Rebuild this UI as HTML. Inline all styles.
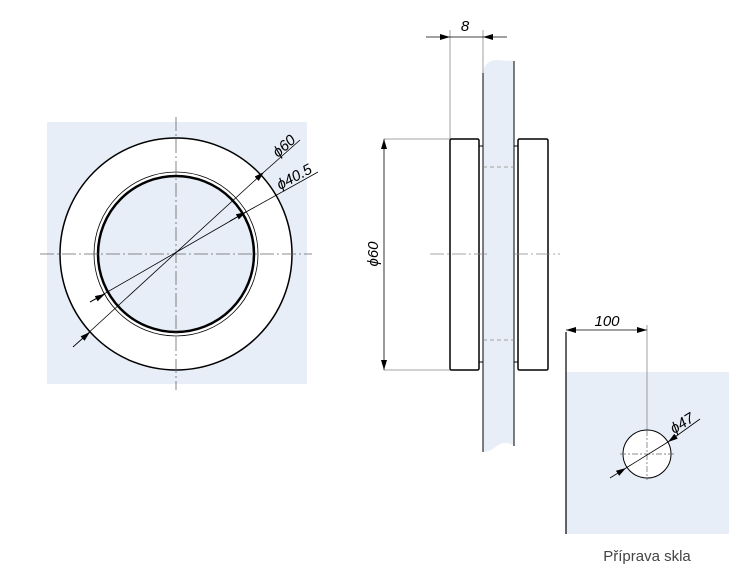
<!DOCTYPE html>
<html><head><style>body{margin:0;background:#fff}svg{display:block}</style></head><body>
<svg width="756" height="574" viewBox="0 0 756 574" xmlns="http://www.w3.org/2000/svg" font-family="Liberation Sans, sans-serif">
<defs>
<marker id="a" viewBox="0 0 10 6" refX="10" refY="3" markerWidth="10" markerHeight="6" orient="auto" markerUnits="userSpaceOnUse"><path d="M0,0L10,3L0,6z" fill="#000"/></marker>
</defs>
<!-- left view -->
<rect x="47" y="122" width="260" height="262" fill="#e8eef7"/>
<circle cx="176" cy="254" r="116" fill="#fff" stroke="#000" stroke-width="1.5"/>
<circle cx="176" cy="254" r="82" fill="none" stroke="#000" stroke-width="0.8"/>
<circle cx="176" cy="254" r="78" fill="#e8eef7" stroke="#000" stroke-width="2.5"/>
<g stroke="#666" stroke-width="0.8" stroke-dasharray="14,3,2,3">
<line x1="40" y1="254" x2="312" y2="254"/><line x1="176" y1="117" x2="176" y2="390"/></g>
<line x1="73" y1="347" x2="264" y2="172" stroke="#000" stroke-width="0.8" marker-end="url(#a)"/>
<line x1="264" y1="172" x2="300" y2="140" stroke="#000" stroke-width="0.8"/>
<line x1="73" y1="347" x2="90" y2="332" stroke="#000" stroke-width="0.8" marker-end="url(#a)"/>
<line x1="90" y1="302" x2="246" y2="212" stroke="#000" stroke-width="0.8"/>
<line x1="230" y1="221" x2="246" y2="212" stroke="#000" stroke-width="0.8" marker-end="url(#a)"/>
<line x1="246" y1="212" x2="318" y2="172" stroke="#000" stroke-width="0.8"/>
<line x1="90" y1="302" x2="105" y2="294" stroke="#000" stroke-width="0.8" marker-end="url(#a)"/>
<text x="278" y="158" font-size="15" font-style="italic" transform="rotate(-42 278 158)">ϕ60</text>
<text x="280" y="190" font-size="15" font-style="italic" transform="rotate(-28 280 190)">ϕ40.5</text>
<!-- middle view -->
<path d="M483,73 Q485,60 497,60 L514,61 L514,446 Q505,440 497,446 Q490,452 483,452 Z" fill="#e8eef7"/>
<line x1="483" y1="73" x2="483" y2="452" stroke="#000" stroke-width="1"/>
<line x1="514" y1="61" x2="514" y2="446" stroke="#000" stroke-width="1"/>
<rect x="450" y="139" width="29" height="231" rx="1.5" fill="#fff" stroke="#000" stroke-width="1.5"/>
<rect x="518" y="139" width="30" height="231" rx="1.5" fill="#fff" stroke="#000" stroke-width="1.5"/>
<g stroke="#000" stroke-width="1"><line x1="479" y1="146" x2="483" y2="146"/><line x1="479" y1="362" x2="483" y2="362"/><line x1="514" y1="146" x2="518" y2="146"/><line x1="514" y1="362" x2="518" y2="362"/></g>
<g stroke="#888" stroke-width="0.8" stroke-dasharray="4,3"><line x1="483" y1="167" x2="514" y2="167"/><line x1="483" y1="340" x2="514" y2="340"/></g>
<g stroke="#888" stroke-width="0.8" stroke-dasharray="14,3,2,3"><line x1="430" y1="254" x2="487" y2="254"/><line x1="514" y1="254" x2="560" y2="254"/></g>
<g stroke="#888" stroke-width="0.8"><line x1="450" y1="30" x2="450" y2="139"/><line x1="483" y1="30" x2="483" y2="73"/><line x1="384" y1="139" x2="450" y2="139"/><line x1="384" y1="370" x2="450" y2="370"/></g>
<line x1="426" y1="37" x2="450" y2="37" stroke="#000" stroke-width="0.8" marker-end="url(#a)"/>
<line x1="450" y1="37" x2="483" y2="37" stroke="#000" stroke-width="0.8"/>
<line x1="507" y1="37" x2="483" y2="37" stroke="#000" stroke-width="0.8" marker-end="url(#a)"/>
<text x="465" y="31" font-size="15" font-style="italic" text-anchor="middle">8</text>
<line x1="384" y1="254" x2="384" y2="139" stroke="#000" stroke-width="0.8" marker-end="url(#a)"/>
<line x1="384" y1="254" x2="384" y2="370" stroke="#000" stroke-width="0.8" marker-end="url(#a)"/>
<text x="378" y="254" font-size="15" font-style="italic" text-anchor="middle" transform="rotate(-90 378 254)">ϕ60</text>
<!-- glass prep -->
<rect x="566" y="372" width="163" height="162" fill="#e8eef7"/>
<line x1="566" y1="332" x2="566" y2="534" stroke="#000" stroke-width="1.2"/>
<line x1="647" y1="325" x2="647" y2="478" stroke="#888" stroke-width="0.8"/>
<line x1="590" y1="330" x2="566" y2="330" stroke="#000" stroke-width="0.8" marker-end="url(#a)"/>
<line x1="590" y1="330" x2="647" y2="330" stroke="#000" stroke-width="0.8" marker-end="url(#a)"/>
<text x="607" y="326" font-size="15" font-style="italic" text-anchor="middle">100</text>
<circle cx="647" cy="454" r="24" fill="#fff" stroke="#000" stroke-width="1"/>
<g stroke="#666" stroke-width="0.7" stroke-dasharray="6,2,2,2"><line x1="620" y1="454" x2="676" y2="454"/><line x1="647" y1="430" x2="647" y2="480"/></g>
<line x1="610" y1="478" x2="626" y2="468" stroke="#000" stroke-width="0.8" marker-end="url(#a)"/>
<line x1="626" y1="468" x2="668" y2="442" stroke="#000" stroke-width="0.8"/>
<line x1="700" y1="419" x2="668" y2="442" stroke="#000" stroke-width="0.8" marker-end="url(#a)"/>
<text x="674" y="434" font-size="15" font-style="italic" transform="rotate(-32 674 434)">ϕ47</text>
<text x="647" y="561" font-size="15" fill="#444" text-anchor="middle">Příprava skla</text>
</svg>
</body></html>
